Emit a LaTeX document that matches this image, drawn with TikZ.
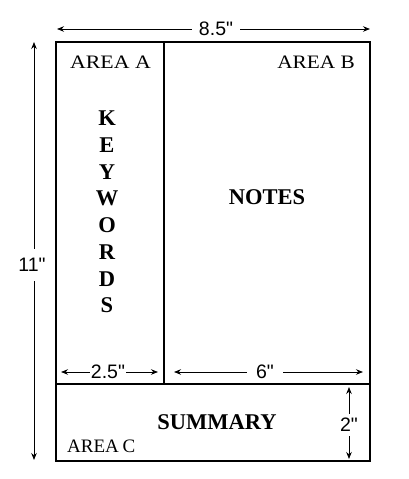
\documentclass[tikz,border=0pt]{standalone}
\usepackage{fontspec}
\setmainfont{Liberation Serif}
\newfontfamily\dimfont{Liberation Sans}
\usetikzlibrary{arrows.meta}
\begin{document}
\begin{tikzpicture}[x=1pt,y=-1pt,
  frame/.style={line width=1.4pt},
  dimline/.style={line width=0.8pt,{Stealth[length=7pt,width=5.5pt]}-{Stealth[length=7pt,width=5.5pt]}},
  dimtext/.style={fill=white,font=\dimfont\fontsize{19.5}{19.5}\selectfont,inner sep=0pt},
  arealabel/.style={font=\fontsize{19}{19}\selectfont,inner sep=0pt},
  bigtext/.style={font=\bfseries\fontsize{22.5}{22.5}\selectfont,inner sep=0pt}]
\useasboundingbox (0,0) rectangle (409,479);
\fill[white] (0,0) rectangle (409,479);
% frame
\coordinate (tl) at (56,42);
\coordinate (br) at (370,461);
\draw[frame] (tl) rectangle (br);
\coordinate (vtop) at (164,42);
\coordinate (vbot) at (164,384);
\draw[frame] (vtop) -- (vbot);
\coordinate (hl) at (56,384);
\coordinate (hr) at (370,384);
\draw[frame] (hl) -- (hr);
% labels
\node[arealabel] (areaA) at (110.5,62) {\scalebox{1.15}[1]{AREA A}};
\node[arealabel,anchor=east] (areaB) at (355,62) {\scalebox{1.12}[1]{AREA B}};
\node[arealabel,anchor=west] (areaC) at (67,446.5) {\scalebox{1.0}[1]{AREA\hspace{-1pt} C}};
\node[bigtext,align=center,font=\bfseries\fontsize{22.5}{26.7}\selectfont] (kw) at (107,212) {K\\E\\Y\\W\\O\\R\\D\\S};
\node[bigtext] (notes) at (267,197) {NOTES};
\node[bigtext] (summary) at (217,422) {SUMMARY};
% dimensions
\coordinate (w1) at (57,29);
\coordinate (w2) at (370,29);
\draw[dimline] (w1) -- (w2);
\node[dimtext,inner xsep=7pt] (wtext) at (216,29) {8.5"};
\coordinate (h1) at (34,42);
\coordinate (h2) at (34,460);
\draw[dimline] (h1) -- (h2);
\node[dimtext,inner ysep=9pt,inner xsep=1pt] (htext) at (32,265) {11"};
\coordinate (a1) at (61,372);
\coordinate (a2) at (158,372);
\draw[dimline] (a1) -- (a2);
\node[dimtext,inner xsep=1pt] (atext) at (108,372) {2.5"};
\coordinate (b1) at (174,372);
\coordinate (b2) at (363,372);
\draw[dimline] (b1) -- (b2);
\node[dimtext,inner xsep=9pt] (btext) at (265,372) {6"};
\coordinate (c1) at (349,387);
\coordinate (c2) at (349,459);
\draw[dimline] (c1) -- (c2);
\node[dimtext,inner ysep=4pt,inner xsep=1pt] (ctext) at (349,425) {2"};
\end{tikzpicture}
\end{document}
